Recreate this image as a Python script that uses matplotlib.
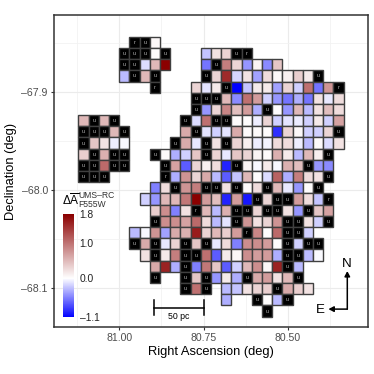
import numpy as np
import matplotlib
matplotlib.use('Agg')
import matplotlib.pyplot as plt
from matplotlib.cm import ScalarMappable
from matplotlib.colors import LinearSegmentedColormap, TwoSlopeNorm

plt.rcParams['font.family'] = ['Liberation Sans', 'DejaVu Sans']
plt.rcParams['mathtext.fontset'] = 'custom'
plt.rcParams['mathtext.rm'] = 'Liberation Sans'
plt.rcParams['mathtext.it'] = 'Liberation Sans:italic'
plt.rcParams['mathtext.bf'] = 'Liberation Sans:bold'

u = 'u'
r = 'r'
_ = None

# first column of each row, rows run north to south, columns east to west
row_start = [5, 4, 4, 4, 7, 11, 11, 0, 0, 0, 0, 0, 0, 7, 6, 7, 7, 5, 5, 6, 7, 7, 10, 10, 18]
row_cells = [
    [r, u, 0.05],
    [u, u, u, 0.02, u, _, _, _, -0.25, 0.2, 0.3, u, r],
    [u, u, -0.15, 0.5, 1.8, _, _, _, -0.6, u, 0.9, 0.3, -0.45, 0.08, -0.5, 0.4],
    [-0.3, u, 0.5, u, _, _, _, _, u, 0.3, 1.5, -0.18, 0.2, -0.4, 0.25, 0.05, 0.1, 0.35, 0.15, u],
    [r, _, _, _, 0.3, -0.12, 0.15, u, -1.1, -0.25, 0.15, 0.15, -0.4, 0.3, -0.2, 1.0, -0.6, 0.75, r],
    [u, u, u, 0.5, -0.5, 1.0, 0.7, -0.2, -0.45, -0.6, -0.35, -0.6, 0.2, -0.1, 0.25],
    [u, -0.45, 0.3, 0.85, 0.45, 0.7, -0.35, u, 0.02, -0.45, 0.5, -0.3, 0.2, 0.45, 0.25],
    [0.5, u, 0.5, u, _, _, _, _, _, _, u, -0.15, 1.0, u, u, 0.03, 0.02, -0.07, 0.3, -0.2, -0.12, -0.08, -0.2, 0.15, -0.2, 0.65],
    [u, u, u, 0.5, u, _, _, _, _, _, 0.6, u, -0.12, -0.2, -0.12, 0.6, 0.03, 0.03, 0.02, -0.9, 0.3, 0.05, -0.2, -0.2, 0.3, u],
    [u, 0.4, 0.2, -0.07, -0.03, _, _, _, _, u, 0.6, -0.1, u, 0.2, u, 0.3, 0.1, -0.07, -0.05, 0.25, 0.25, -0.07, -0.3, 0.03, -0.15, 0.2],
    [0.35, u, 0.55, u, u, _, _, u, 0.03, -0.35, -0.2, 0.4, u, 0.3, -0.1, 0.4, 0.3, 0.08, 0.03, 0.55, 0.15, -0.3, 0.5, 0.12, u],
    [u, u, 1.05, u, u, _, _, _, u, 0.65, -0.7, 0.3, 0.1, 0.25, -0.95, u, 0.08, -0.03, 0.15, -0.03, 0.55, 0.45, u, -0.45, -0.5],
    [u, u, u, _, _, _, _, _, r, -0.35, 0.75, 0.3, 0.6, -0.3, -0.7, -0.25, 0.5, 0.02, -0.15, 1.1, -0.35, 0.9, 0.25, 0.2, u],
    [-0.55, 0.25, u, 0.75, 0.9, u, u, 0.2, u, 0.03, 0.25, u, 0.5, -0.1, -0.45, 0.02, u],
    [-0.2, -0.45, 0.5, 0.5, 0.95, 1.8, 0.7, 0.45, -0.95, 0.7, -1.0, u, 0.3, u, u, 0.7, 0.25, -0.25, r],
    [0.35, 0.8, -0.55, 0.2, r, 0.5, -0.3, 0.55, u, u, 0.3, u, u, 0.2, -0.45, u, 0.4, 0.65],
    [u, 0.8, 0.8, 0.65, 1.05, 0.25, -0.3, -0.12, u, 0.75, 0.2, 0.3, 0.75, u, u, 0.2, -0.2, u],
    [-0.3, -0.03, 0.75, -0.4, 0.6, 0.55, 1.6, 0.3, 0.5, 0.35, 0.7, r, 0.85, 0.02, 1.05, u, u, -0.2],
    [u, 0.6, u, -0.1, 0.3, u, 0.4, u, -0.1, 0.25, -0.55, 0.8, 0.8, 0.7, 0.02, u, -0.2, u, u],
    [0.2, u, 0.15, 0.9, u, u, 1.0, -0.7, 0.15, 0.05, 0.8, 0.7, 0.7, -0.35, u, u, -0.3, -0.02],
    [0.6, 1.55, -0.35, u, -0.55, 0.95, 0.4, -0.7, -0.2, 0.5, 0.8, 0.07, 1.55, u, -0.3],
    [u, _, _, u, 0.4, u, -0.45, 0.15, -0.35, u, 0.6, 0.7, 0.2, 0.5, u],
    [u, 1.0, u, _, -0.3, -0.25, 0.2, 0.3, 0.35, u, 0.6, 0.35, 0.2],
    [_, _, _, _, -0.35, _, _, u, 0.02, -0.3, u],
    [u],
]

ra_ticks = [81.00, 80.75, 80.50]
dec_ticks = [-67.9, -68.0, -68.1]
cbar_ticks = [1.8, 1.0, 0.0, -1.1]
cbar_labels = ['1.8', '1.0', '0.0', '\u20131.1']

ra_first = 81.1217
dec_first = -67.8441
ra_step = 0.03029
dec_step = 0.01139

fig = plt.figure(figsize=(3.74, 3.74), dpi=100)
ax = fig.add_axes([54/374, 1 - 327/374, 313.5/374, 312/374])
ax.set_xlim(81.194, 80.263)
ax.set_ylim(-68.1394, -67.822)
ax.set_axisbelow(True)

cmap = LinearSegmentedColormap.from_list('bwr2', ['#0000ff', '#ffffff', '#8b0000'])
norm = TwoSlopeNorm(vmin=-1.1, vcenter=0, vmax=1.8)
edge = '#404040'

for i, (start, cells) in enumerate(zip(row_start, row_cells)):
    for j, cell in enumerate(cells):
        if cell is None:
            continue
        col = start + j
        ra_mid = ra_first - (col + 0.5) * ra_step
        dec_mid = dec_first - (i + 0.5) * dec_step
        flagged = cell in (u, r)
        color = 'black' if flagged else cmap(norm(cell))
        ax.bar(ra_mid, dec_step, width=ra_step, bottom=dec_mid - dec_step / 2,
               color=color, edgecolor=edge, linewidth=1.0, zorder=3)
        if flagged:
            ax.text(ra_mid, dec_mid, cell, fontsize=3.8, color='#bdbdbd',
                    ha='center', va='center', zorder=4)

ax.set_xticks(ra_ticks)
ax.set_xticklabels(['81.00', '80.75', '80.50'])
ax.set_yticks(dec_ticks)
ax.set_yticklabels(['\u201367.9', '\u201368.0', '\u201368.1'])
ax.set_xticks([81.125, 80.875, 80.625, 80.375], minor=True)
ax.set_yticks([-67.85, -67.95, -68.05], minor=True)
ax.grid(True, which='major', color='#ebebeb', linewidth=0.8)
ax.grid(True, which='minor', color='#f2f2f2', linewidth=0.6)
ax.tick_params(which='minor', length=0)
ax.tick_params(which='major', length=2.5, width=0.8, color='#333333', labelcolor='#4d4d4d',
               labelsize=7.6, pad=2)
for s in ax.spines.values():
    s.set_linewidth(1.1)
    s.set_color('#333333')
ax.set_xlabel('Right Ascension (deg)', fontsize=9.3, labelpad=2)
ax.set_ylabel('Declination (deg)', fontsize=9.3, labelpad=3)

# scale bar
ax.plot([80.898, 80.75], [-68.12, -68.12], color='black', lw=1.1, zorder=5)
ax.plot([80.898, 80.898], [-68.1123, -68.1275], color='black', lw=1.1, zorder=5)
ax.plot([80.75, 80.75], [-68.1123, -68.1275], color='black', lw=1.1, zorder=5)
ax.text(80.824, -68.1292, '50 pc', fontsize=6.3, ha='center', va='center')

# compass
corner = (80.323, -68.1212)
ax.annotate('', xy=(corner[0], -68.0825), xytext=corner,
            arrowprops=dict(arrowstyle='-|>,head_width=0.16,head_length=0.3', color='black', lw=1.1,
                            shrinkA=0, shrinkB=0))
ax.annotate('', xy=(80.379, corner[1]), xytext=corner,
            arrowprops=dict(arrowstyle='-|>,head_width=0.16,head_length=0.3', color='black', lw=1.1,
                            shrinkA=0, shrinkB=0))
ax.text(80.325, -68.0752, 'N', fontsize=9.6, ha='center', va='center')
ax.text(80.402, -68.1222, 'E', fontsize=9.6, ha='center', va='center')

# colour bar
cax = fig.add_axes([62.7/374, 1 - 317.3/374, 11.3/374, 103/374])
cb = fig.colorbar(ScalarMappable(norm=norm, cmap=cmap), cax=cax, ticks=cbar_ticks)
cb.outline.set_visible(False)
cax.set_yscale('linear')
cax.set_ylim(-1.1, 1.8)
cax.set_yticks(cbar_ticks)
cax.set_yticklabels(cbar_labels)
cax.tick_params(length=0, labelsize=7.4, pad=4, labelcolor='#222222')
fig.text(62.5/374, 1 - 200/374, r'$\Delta\overline{\mathrm{A}}$', fontsize=8.6, ha='left', va='center')
fig.text(78.5/374, 1 - 195/374, 'UMS\u2013RC', fontsize=6.2, color='#333333', ha='left', va='center')
fig.text(78.5/374, 1 - 204.5/374, 'F555W', fontsize=6.2, color='#333333', ha='left', va='center')

fig.savefig('out.png', dpi=100)
